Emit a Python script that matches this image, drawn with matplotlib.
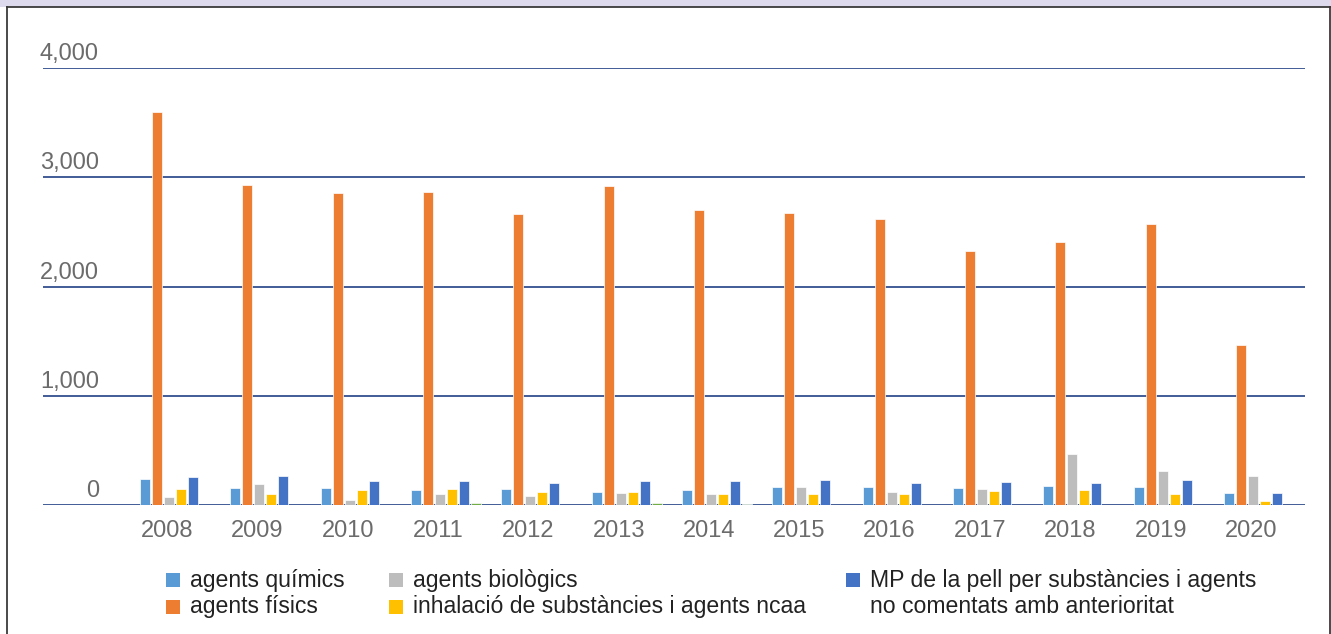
import matplotlib
matplotlib.use("Agg")
import matplotlib.pyplot as plt
import matplotlib.transforms as mtransforms
from matplotlib.patches import Rectangle
from matplotlib.lines import Line2D
import numpy as np

# Occupational disease cases by agent group, 2008-2020
years = ["2008", "2009", "2010", "2011", "2012", "2013", "2014",
         "2015", "2016", "2017", "2018", "2019", "2020"]

agents_quimics = [242, 159, 159, 137, 150, 119, 135, 165, 165, 156, 171, 165, 113]
agents_fisics = [3600, 2930, 2855, 2865, 2665, 2920, 2700, 2675, 2620, 2325, 2405, 2570, 1465]
agents_biologics = [70, 196, 43, 98, 82, 110, 101, 162, 115, 146, 470, 308, 269]
inhalacio = [144, 101, 135, 150, 116, 119, 98, 101, 105, 128, 137, 101, 40]
mp_pell = [253, 263, 217, 223, 201, 223, 217, 226, 201, 208, 201, 226, 107]
altres = [0, 0, 0, 18, 0, 18, 5, 0, 0, 0, 0, 0, 0]

series = [agents_quimics, agents_fisics, agents_biologics, inhalacio, mp_pell, altres]
colors = ["#5B9BD5", "#ED7D31", "#BDBDBD", "#FFC000", "#4472C4", "#70AD47"]

legend_labels = ["agents químics", "agents físics", "agents biològics",
                 "inhalació de substàncies i agents ncaa",
                 "MP de la pell per substàncies i agents\nno comentats amb anterioritat"]

y_ticks = [0, 1000, 2000, 3000, 4000]

W, H = 1331, 634
FONT = "Liberation Sans"
GRID = "#33508F"
TICK_GRAY = "#6B6B6B"


def fx(px):
    return px / W


def fy(py):
    return 1 - py / H


fig = plt.figure(figsize=(W / 100, H / 100), dpi=100)
fig.patch.set_facecolor("white")

# top band and frame
fig.add_artist(Rectangle((0, fy(6.5)), 1, 6.5 / H, transform=fig.transFigure,
                         facecolor="#DCDAEC", edgecolor="none"))
frame_kw = dict(transform=fig.transFigure, color="#3A3A3A", linewidth=1.3)
fig.add_artist(Line2D([fx(7), fx(1329.5)], [fy(7), fy(7)], **frame_kw))
fig.add_artist(Line2D([fx(7), fx(7)], [fy(7), 0], **frame_kw))
fig.add_artist(Line2D([fx(1329.5), fx(1329.5)], [fy(7), 0], **frame_kw))

ax = fig.add_axes([fx(43), fy(505), fx(1305) - fx(43), fy(68) - fy(505)])

slot = 90.33
x = np.arange(len(years))
bar_w = 10 / slot
step = 12 / slot
for k, (vals, col) in enumerate(zip(series, colors)):
    ax.bar(x + (k - 2) * step + 2 / slot, vals, width=bar_w, color=col,
           edgecolor="white", linewidth=0.5, zorder=3)

ax.set_xlim((43 - 167) / slot, (1305 - 167) / slot)
ax.set_ylim(0, 4000)

for v in y_ticks:
    ax.axhline(v, color=GRID, linewidth=1.3, zorder=2)

for s in ax.spines.values():
    s.set_visible(False)
ax.set_yticks([])
ax.set_xticks(x)
ax.set_xticklabels(years, fontsize=17, color=TICK_GRAY, family=FONT)
ax.tick_params(axis="x", length=0, pad=11)

# value labels sit above their gridlines, right-aligned
lab_trans = mtransforms.offset_copy(
    mtransforms.blended_transform_factory(ax.transAxes, ax.transData),
    fig=fig, x=0, y=8, units="dots")
for v in y_ticks:
    ax.text((99 - 43) / (1305 - 43), v, f"{v:,}", transform=lab_trans,
            ha="right", va="baseline", fontsize=17, color=TICK_GRAY, family=FONT)

# legend: (series index, square x, text centre y)
entries = [
    (0, 166, 580),
    (1, 166, 607),
    (2, 389, 580),
    (3, 389, 607),
    (4, 846, 580),
]
for idx, px, py in entries:
    fig.add_artist(Rectangle((fx(px), fy(py + 7)), 14 / W, 14 / H,
                             transform=fig.transFigure,
                             facecolor=colors[idx], edgecolor="none"))
    label = legend_labels[idx]
    ty = py + 13.5 if "\n" in label else py
    fig.text(fx(px + 24), fy(ty), label, ha="left", va="center",
             fontsize=16.6, color="#222222", family=FONT, linespacing=1.15)

fig.savefig("out.png", dpi=100)
